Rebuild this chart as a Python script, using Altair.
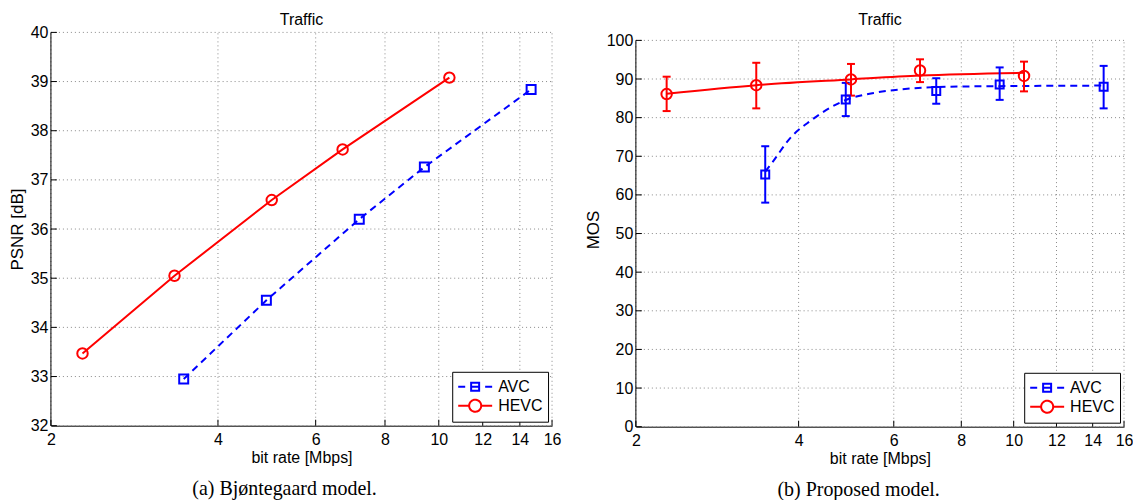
import altair as alt
import pandas as pd

SERIES = ["AVC", "HEVC"]
COLORS = ["#0000ff", "#ff0000"]

X_TICKS = [2, 4, 6, 8, 10, 12, 14, 16]

rate_avc = [3.47, 4.89, 7.19, 9.42, 14.67]
rate_hevc = [2.28, 3.34, 5.00, 6.71, 10.45]

psnr_avc = [32.95, 34.55, 36.20, 37.26, 38.84]
psnr_hevc = [33.47, 35.05, 36.59, 37.62, 39.08]
PSNR_TICKS = [32, 33, 34, 35, 36, 37, 38, 39, 40]

mos_avc = [65.3, 84.7, 86.9, 88.6, 88.0]
mos_avc_lo = [58.0, 80.4, 83.6, 84.6, 82.4]
mos_avc_hi = [72.6, 89.0, 90.2, 93.0, 93.4]
mos_hevc = [86.1, 88.4, 89.9, 92.2, 90.8]
mos_hevc_lo = [81.7, 82.4, 85.7, 89.2, 86.8]
mos_hevc_hi = [90.6, 94.2, 93.9, 95.1, 94.5]
MOS_TICKS = [0, 10, 20, 30, 40, 50, 60, 70, 80, 90, 100]

fit_avc_rate = [3.47, 3.58, 3.87, 4.21, 4.58, 4.92, 5.51, 6.17, 7.11, 8.50, 10.50, 14.67]
fit_avc_mos = [66.0, 68.5, 74.9, 79.2, 82.6, 84.7, 86.4, 87.3, 87.9, 88.1, 88.2, 88.3]
fit_hevc_rate = [2.28, 3.34, 5.00, 6.71, 10.45]
fit_hevc_mos = [86.2, 88.4, 89.9, 90.9, 91.6]

TITLE = "Traffic"
CAPTION_A = "(a)  Bjøntegaard model."
CAPTION_B = "(b)  Proposed model."

FONT = "Liberation Sans"
GRID_COLOR = "#8a8a8a"

# legend glyphs: short line with the marker in the middle (unit = sqrt(size)/2)
PATH_AVC = "M-1,0H-0.22M2,0H2.78M0.44,-0.44H1.33V0.44H0.44ZM0.44,0H1.33"
PATH_HEVC = ("M-1,0H0.22M1.56,0H2.78M1.56,0A0.67,0.67,0,1,1,0.22,0"
             "A0.67,0.67,0,1,1,1.56,0")
CAP_PATH = "M-1,0H1"


def series_df(rates_list, values_list):
    rows = []
    for s, rates, vals in zip(SERIES, rates_list, values_list):
        for r, v in zip(rates, vals):
            rows.append({"series": s, "rate": r, "v": v})
    return pd.DataFrame(rows)


def make_panel(W, H, ydom, yticks, ytitle, lines_df, points_df, err_df,
               caption, title_y, sq_size, circ_size):
    xscale = alt.Scale(type="log", domain=[X_TICKS[0], X_TICKS[-1]], nice=False)
    yscale = alt.Scale(domain=ydom, nice=False, zero=False)
    xaxis = alt.Axis(values=X_TICKS, format="d", grid=False, ticks=False,
                     domain=True, domainColor="black", domainWidth=1,
                     labelFontSize=16, labelPadding=6, labelFlush=False,
                     labelOverlap=False, title="bit rate [Mbps]",
                     titleFontSize=16, titlePadding=2)
    yaxis = alt.Axis(values=yticks, grid=False, ticks=False, domain=False,
                     labelFontSize=16, labelPadding=3, labelOverlap=False,
                     title=ytitle, titleFontSize=17, titlePadding=4)

    def X(field):
        return alt.X(field, type="quantitative", scale=xscale, axis=xaxis)

    def Y(field):
        return alt.Y(field, type="quantitative", scale=yscale, axis=yaxis)

    ymin, ymax = yticks[0], yticks[-1]
    xmin, xmax = X_TICKS[0], X_TICKS[-1]

    color_scale = alt.Scale(domain=SERIES, range=COLORS)

    # invisible layer (first, so its legend settings win) that gives the key
    legend = alt.Legend(
        title=None, orient="bottom-right", offset=4, fillColor="white",
        strokeColor="black", padding=5, labelFontSize=16, labelFont=FONT,
        labelColor="black", symbolSize=324, symbolStrokeWidth=2,
        labelOffset=21, rowPadding=0, symbolFillColor="transparent",
        symbolOpacity=1, symbolDash=[1, 0],
    )
    key = alt.Chart(points_df).mark_point(
        filled=False, strokeWidth=2, opacity=0).encode(
        x=X("rate"), y=Y("v"),
        color=alt.Color("series:N", scale=color_scale, legend=legend),
        shape=alt.Shape("series:N", scale=alt.Scale(
            domain=SERIES, range=[PATH_AVC, PATH_HEVC]), legend=legend),
    )

    vgrid_df = pd.DataFrame({"x": X_TICKS, "y0": ymin, "y1": ymax})
    hgrid_df = pd.DataFrame({"y": yticks, "x0": xmin, "x1": xmax})
    yline_df = pd.DataFrame({"y0": [ymin], "y1": [ymax]})

    vgrid = alt.Chart(vgrid_df).mark_rule(
        color=GRID_COLOR, strokeWidth=1, strokeDash=[1, 3]
    ).encode(x=X("x"), y=Y("y0"), y2="y1")
    hgrid = alt.Chart(hgrid_df).mark_rule(
        color=GRID_COLOR, strokeWidth=1, strokeDash=[1, 3]
    ).encode(y=Y("y"), x=X("x0"), x2="x1")
    yline = alt.Chart(yline_df).mark_rule(color="black", strokeWidth=1).encode(
        x=alt.value(0), y=Y("y0"), y2="y1")
    xticks = alt.Chart(vgrid_df).mark_rule(color="black", strokeWidth=1).encode(
        x=X("x"), y=alt.value(H), y2=alt.value(H - 6))
    yticks_m = alt.Chart(hgrid_df).mark_rule(color="black", strokeWidth=1).encode(
        y=Y("y"), x=alt.value(0), x2=alt.value(6))

    layers = [key, vgrid, hgrid, yline, xticks, yticks_m]

    dashes = [[7, 5], None]
    for s, col, dash in zip(SERIES, COLORS, dashes):
        d = lines_df[lines_df["series"] == s]
        kw = dict(strokeWidth=2, clip=True, color=col,
                  interpolate="monotone" if err_df is not None else "linear")
        if dash:
            kw["strokeDash"] = dash
        layers.append(alt.Chart(d).mark_line(**kw).encode(
            x=X("rate"), y=Y("v"), order="rate:Q"))

    if err_df is not None:
        for s, col in zip(SERIES, COLORS):
            d = err_df[err_df["series"] == s]
            layers.append(alt.Chart(d).mark_rule(strokeWidth=2, color=col).encode(
                x=X("rate"), y=Y("lo"), y2="hi"))
            for f in ["lo", "hi"]:
                layers.append(alt.Chart(d).mark_point(
                    shape=CAP_PATH, size=64, filled=False, strokeWidth=2,
                    opacity=1, color=col).encode(x=X("rate"), y=Y(f)))

    for s, col, shp, sz in zip(SERIES, COLORS, ["square", "circle"],
                               [sq_size, circ_size]):
        d = points_df[points_df["series"] == s]
        layers.append(alt.Chart(d).mark_point(
            filled=False, strokeWidth=2, opacity=1, shape=shp, size=sz,
            color=col).encode(x=X("rate"), y=Y("v")))

    ttl = alt.Chart(pd.DataFrame({"t": [TITLE]})).mark_text(
        font=FONT, fontSize=16, align="center", baseline="middle",
        color="black").encode(text="t:N", x=alt.value(W / 2),
                              y=alt.value(title_y))
    layers.append(ttl)

    return alt.layer(*layers).properties(
        width=W, height=H,
        title=alt.TitleParams(caption, orient="bottom", frame="bounds",
                              anchor="middle", font="Liberation Serif",
                              fontSize=20, fontWeight="normal",
                              color="black", offset=13),
    )


left_lines = series_df([rate_avc, rate_hevc], [psnr_avc, psnr_hevc])
left = make_panel(502, 394, [PSNR_TICKS[0], PSNR_TICKS[-1]], PSNR_TICKS,
                  "PSNR [dB]", left_lines, left_lines, None, CAPTION_A,
                  -12, 81, 110)

H_R = 395
TOP_GAP = 8
right_lines = series_df([fit_avc_rate, fit_hevc_rate], [fit_avc_mos, fit_hevc_mos])
right_pts = series_df([rate_avc, rate_hevc], [mos_avc, mos_hevc])
lo = series_df([rate_avc, rate_hevc], [mos_avc_lo, mos_hevc_lo])
hi = series_df([rate_avc, rate_hevc], [mos_avc_hi, mos_hevc_hi])
err = lo.rename(columns={"v": "lo"})
err["hi"] = hi["v"]
right = make_panel(489, H_R, [0, MOS_TICKS[-1] * H_R / (H_R - TOP_GAP)],
                   MOS_TICKS, "MOS", right_lines, right_pts, err, CAPTION_B,
                   -12, 64, 110)

chart = alt.hconcat(left, right, spacing=23).resolve_scale(
    color="independent", shape="independent"
).resolve_legend(color="independent", shape="independent").properties(
    padding={"top": 4, "left": 0, "right": 0, "bottom": 0},
    background="white"
).configure_view(stroke=None).configure_axis(
    labelFont=FONT, titleFont=FONT, labelColor="black", titleColor="black",
    titleFontWeight="normal"
).configure_title(font="Liberation Serif")

chart.save("out.html", embed_options={"renderer": "svg", "actions": False})
